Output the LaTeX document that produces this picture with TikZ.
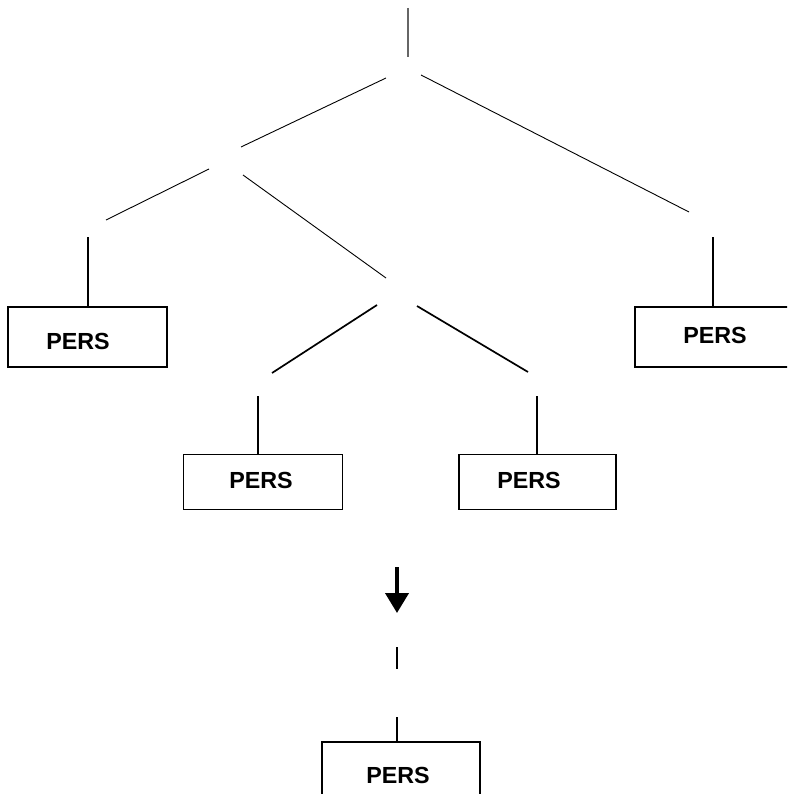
\documentclass[tikz,border=0pt]{standalone}
\usepackage{fontspec}
\setmainfont{Liberation Sans}
\usetikzlibrary{arrows.meta}
\begin{document}
\begin{tikzpicture}[x=1pt,y=-1pt,
  thin line/.style={line width=0.9pt},
  mid line/.style={line width=1.7pt},
  stub/.style={line width=1.4pt},
  pbox/.style={draw,line width=1.4pt,rectangle,inner sep=0pt,minimum width=159pt,minimum height=60pt},
  lbl/.style={inner sep=0pt,font=\fontsize{23.3}{28}\selectfont\bfseries}]
\clip (0,0) rectangle (787,794);
\useasboundingbox (0,0) rectangle (787,794);
% top tree
\coordinate (r0) at (408,8);
\coordinate (r1) at (408,57);
\draw[line width=1.3pt,black!60] (r0) -- (r1);
\coordinate (aL) at (386,78);
\coordinate (aLe) at (241,147);
\coordinate (aR) at (421,75);
\coordinate (aRe) at (689,212);
\draw[thin line] (aL) -- (aLe);
\draw[thin line] (aR) -- (aRe);
\coordinate (bL) at (209,169);
\coordinate (bLe) at (106,220);
\coordinate (bR) at (243,175);
\coordinate (bRe) at (386,278);
\draw[thin line] (bL) -- (bLe);
\draw[thin line] (bR) -- (bRe);
\coordinate (cL) at (377,305);
\coordinate (cLe) at (272,373);
\coordinate (cR) at (417,306);
\coordinate (cRe) at (528,372);
\draw[mid line] (cL) -- (cLe);
\draw[mid line] (cR) -- (cRe);
% boxes
\node[pbox] (b1) at (87.5,337) {};
\node[lbl] (t1) at (78,341) {PERS};
\node[pbox,minimum width=160pt] (b2) at (715,337) {};
\node[lbl] (t2) at (715,335) {PERS};
\node[pbox,minimum height=55pt] (b3) at (263,482) {};
\node[lbl] (t3) at (261,480) {PERS};
\node[pbox,minimum height=55pt,minimum width=157pt] (b4) at (537.5,482) {};
\node[lbl] (t4) at (529,480) {PERS};
\node[pbox,minimum width=158pt] (b5) at (401,772) {};
\node[lbl] (t5) at (398,775) {PERS};
% stubs
\coordinate (s1) at (88,237);
\draw[stub] (s1) -- (b1.north -| s1);
\coordinate (s2) at (713,237);
\draw[stub] (s2) -- (b2.north -| s2);
\coordinate (s3) at (258,396);
\draw[stub] (s3) -- (b3.north -| s3);
\coordinate (s4) at (537,396);
\draw[stub] (s4) -- (b4.north -| s4);
% arrow and dashes
\coordinate (a0) at (397,567);
\coordinate (a1) at (397,613);
\draw[line width=4pt,-{Triangle[width=23pt,length=20pt]}] (a0) -- (a1);
\coordinate (d0) at (397,647);
\coordinate (d1) at (397,669);
\draw[stub] (d0) -- (d1);
\coordinate (d2) at (397,717);
\draw[stub] (d2) -- (b5.north -| d2);
\end{tikzpicture}
\end{document}
